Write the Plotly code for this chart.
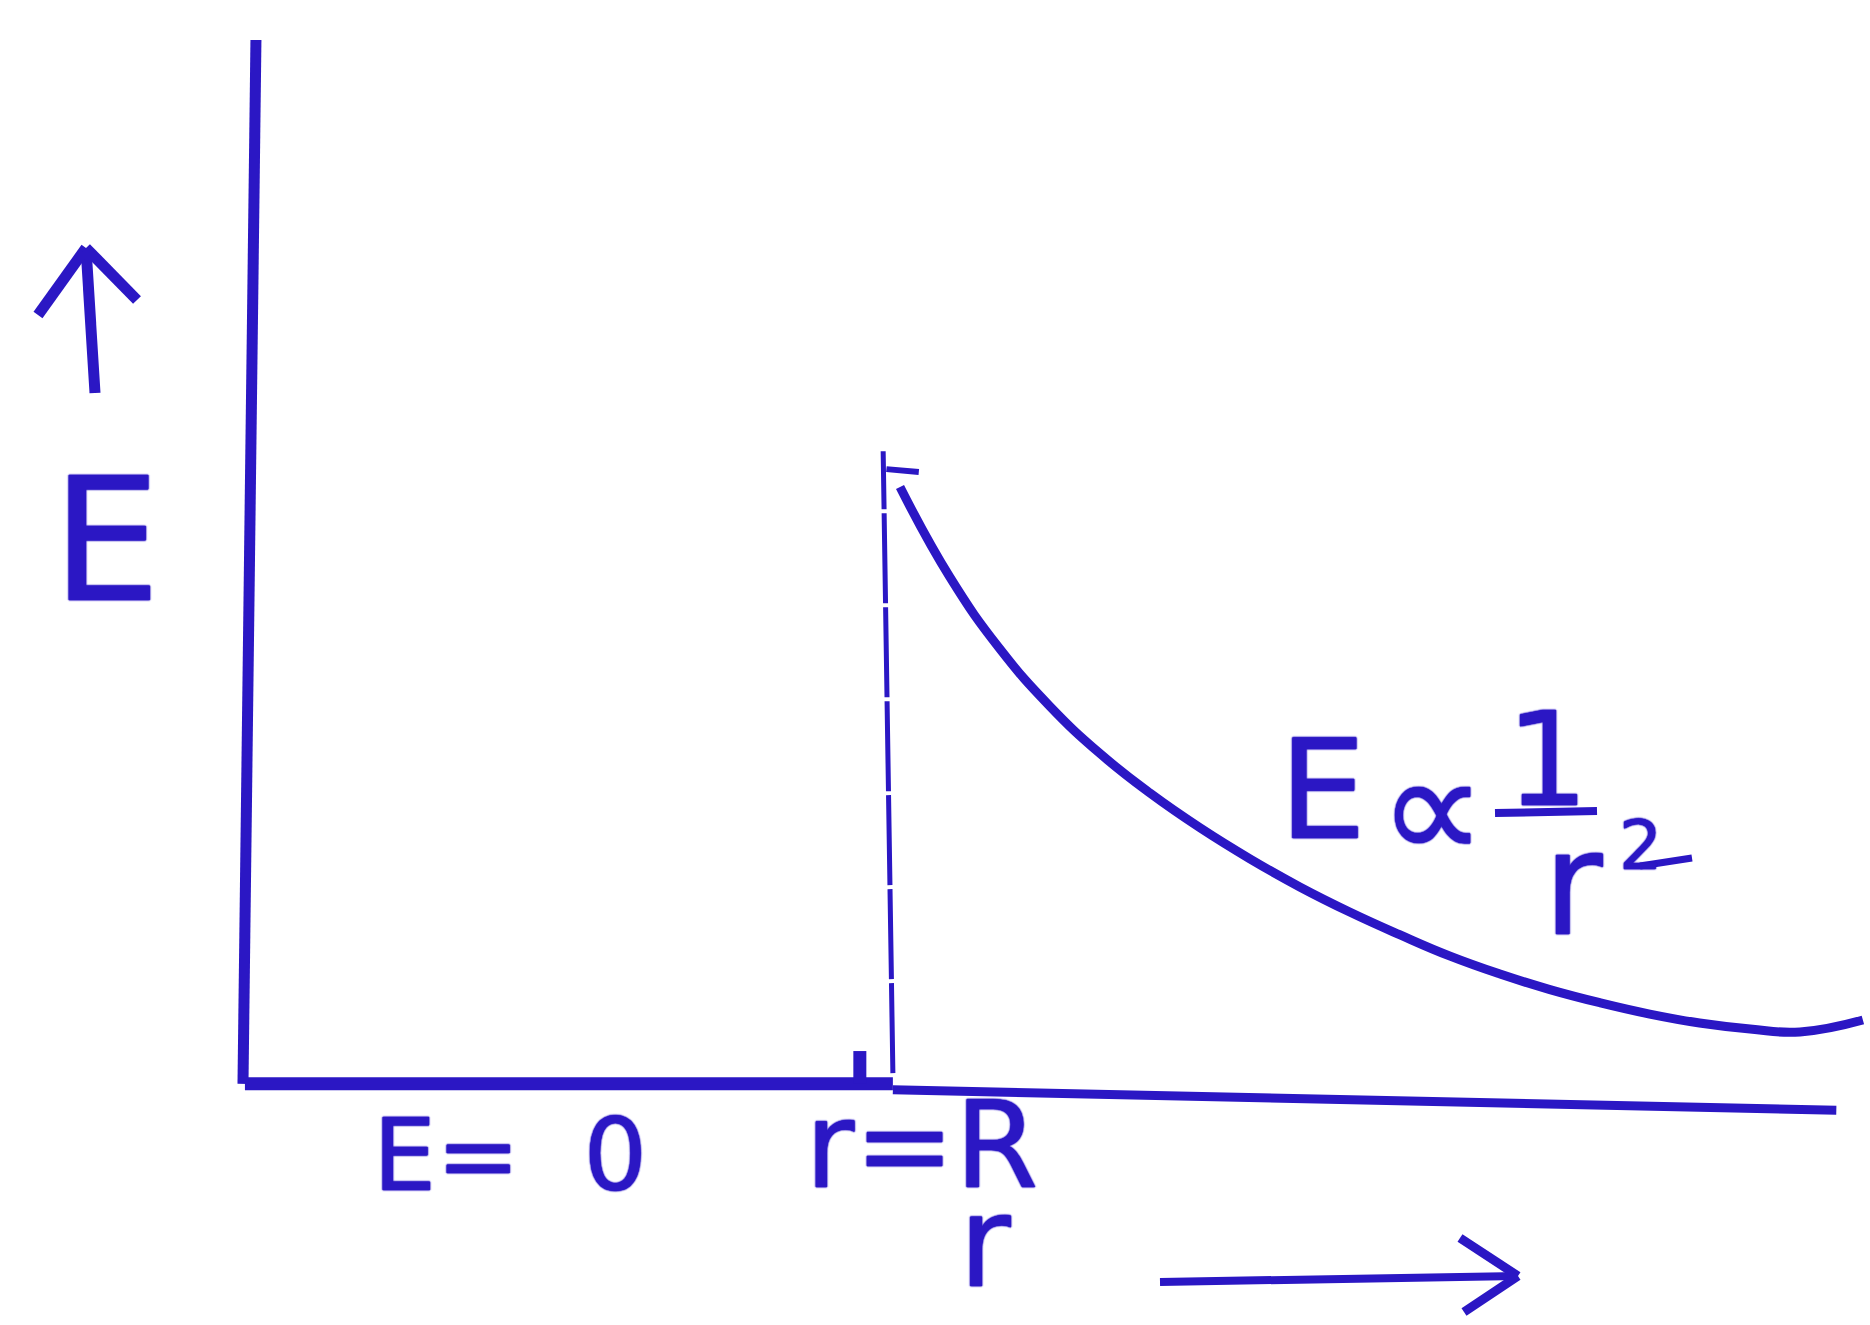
import plotly.graph_objects as go

# Field of a charged spherical shell: E = 0 inside (r < R), E ∝ 1/r² outside
R = 1.0

inner_r = [0.0, R]
inner_E = [0.0, 0.0]

curve_r = [1.011, 1.088, 1.165, 1.242, 1.319, 1.397, 1.474, 1.551, 1.628, 1.705,
           1.782, 1.860, 1.937, 2.014, 2.091, 2.168, 2.245, 2.323, 2.400, 2.497]
curve_E = [1.000, 0.849, 0.729, 0.633, 0.554, 0.487, 0.429, 0.377, 0.330, 0.288,
           0.250, 0.214, 0.184, 0.158, 0.136, 0.117, 0.102, 0.092, 0.087, 0.107]

INK = "#2b17c4"
FONT = "DejaVu Sans"
W, H = 1870, 1325

X_RANGE = [-0.378, 2.508]
Y_RANGE = [-0.404, 1.816]


def px(x):
    return x / W


def py(y):
    return 1 - y / H


fig = go.Figure()

# E = 0 inside the shell, drawn heavy along the r axis
fig.add_trace(go.Scatter(x=inner_r, y=inner_E, mode="lines",
                         line=dict(color=INK, width=13), hoverinfo="skip"))

# 1/r² fall-off outside the shell
fig.add_trace(go.Scatter(x=curve_r, y=curve_E, mode="lines",
                         line=dict(color=INK, width=9, shape="spline", smoothing=1.3),
                         hoverinfo="skip"))

# small pen mark just before r = R
fig.add_trace(go.Scatter(x=[0.949, 0.949], y=[0.0, 0.055], mode="lines",
                         line=dict(color=INK, width=13), hoverinfo="skip"))

shapes = [
    # E axis
    dict(type="line", xref="x", yref="y", x0=-0.003, y0=0.0, x1=0.017, y1=1.749,
         line=dict(color=INK, width=11)),
    # r axis beyond the shell
    dict(type="line", xref="x", yref="y", x0=R, y0=-0.01, x1=2.456, y1=-0.044,
         line=dict(color=INK, width=9)),
    # r = R marker
    dict(type="line", xref="x", yref="y", x0=R, y0=0.018, x1=R - 0.015, y1=1.06,
         line=dict(color=INK, width=5, dash="90px,4px")),
    dict(type="line", xref="x", yref="y", x0=0.99, y0=1.03, x1=1.04, y1=1.025,
         line=dict(color=INK, width=6)),
    # arrow beside E label
    dict(type="line", xref="paper", yref="paper", x0=px(95), y0=py(393), x1=px(86), y1=py(248),
         line=dict(color=INK, width=11)),
    dict(type="line", xref="paper", yref="paper", x0=px(38), y0=py(315), x1=px(86), y1=py(248),
         line=dict(color=INK, width=11)),
    dict(type="line", xref="paper", yref="paper", x0=px(137), y0=py(300), x1=px(86), y1=py(248),
         line=dict(color=INK, width=11)),
    # arrow beside r label
    dict(type="line", xref="paper", yref="paper", x0=px(1160), y0=py(1282), x1=px(1518), y1=py(1276),
         line=dict(color=INK, width=8)),
    dict(type="line", xref="paper", yref="paper", x0=px(1460), y0=py(1238), x1=px(1518), y1=py(1276),
         line=dict(color=INK, width=9)),
    dict(type="line", xref="paper", yref="paper", x0=px(1464), y0=py(1312), x1=px(1518), y1=py(1276),
         line=dict(color=INK, width=9)),
    # fraction bar of 1/r²
    dict(type="line", xref="paper", yref="paper", x0=px(1495), y0=py(813), x1=px(1597), y1=py(811),
         line=dict(color=INK, width=8)),
    # tail of the exponent stroke
    dict(type="line", xref="paper", yref="paper", x0=px(1640), y0=py(866), x1=px(1692), y1=py(858),
         line=dict(color=INK, width=7)),
]

# soft ink spread to give the glyphs a pen-like weight
THICK = ", ".join(["0 0 1.5px " + INK] * 4)


def label(text, x, y, size):
    return dict(text=text, xref="paper", yref="paper", x=px(x), y=py(y),
                xanchor="center", yanchor="middle", showarrow=False,
                font=dict(family=FONT, size=size, color=INK, shadow=THICK))


annotations = [
    label("E", 106, 540, 172),
    label("E=  0", 510, 1155, 100),
    label("r=R", 921, 1145, 120),
    label("r", 985, 1242, 126),
    label("E", 1322, 790, 138),
    label("∝", 1432, 808, 150),
    label("1", 1547, 760, 130),
    label("r", 1573, 883, 145),
    label("2", 1640, 846, 68),
]

fig.update_layout(
    width=W, height=H,
    margin=dict(l=0, r=0, t=0, b=0),
    paper_bgcolor="white", plot_bgcolor="white",
    showlegend=False,
    xaxis=dict(range=X_RANGE, visible=False, fixedrange=True),
    yaxis=dict(range=Y_RANGE, visible=False, fixedrange=True),
    shapes=shapes,
    annotations=annotations,
)

fig.write_html("out.html")
